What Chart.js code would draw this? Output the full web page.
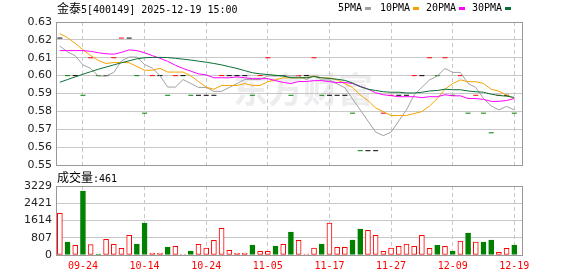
<!DOCTYPE html>
<html>
<head>
<meta charset="utf-8">
<script src="https://cdn.jsdelivr.net/npm/chart.js@4.4.1/dist/chart.umd.min.js"></script>
<style>
body { margin: 0; background: #fff; width: 578px; height: 276px; overflow: hidden; position: relative; }
canvas { position: absolute; left: 0; }
#price { top: 0; }
#vol { top: 170px; }
.t { position: absolute; font-family: "DejaVu Sans Mono", monospace; font-size: 10px; line-height: 12px; color: #000; white-space: nowrap; }
.cn { font-family: "Noto Sans CJK SC", sans-serif; font-size: 12px; }
.sq { position: absolute; width: 6px; height: 3px; }
</style>
</head>
<body>
<canvas id="price" width="578" height="176"></canvas>
<canvas id="vol" width="578" height="106"></canvas>

<div class="t" style="left:57px;top:2px"><span class="cn">金泰</span>5[400149] 2025-12-19 15:00</div>
<div class="t" style="left:338px;top:2px">5PMA</div>
<div class="sq" style="left:365px;top:7px;background:#a0a0a0"></div>
<div class="t" style="left:380px;top:2px">10PMA</div>
<div class="sq" style="left:413px;top:7px;background:#f5a300"></div>
<div class="t" style="left:426px;top:2px">20PMA</div>
<div class="sq" style="left:459px;top:7px;background:#ff00ff"></div>
<div class="t" style="left:472px;top:2px">30PMA</div>
<div class="sq" style="left:505px;top:7px;background:#0a6e36"></div>
<div class="t" style="left:57px;top:171px"><span class="cn">成交量</span>:461</div>

<script>
// 交易日
const dates = ['09-19','09-22','09-23','09-24','09-25','09-26','09-29','09-30','10-09','10-10',
  '10-13','10-14','10-15','10-16','10-17','10-20','10-21','10-22','10-23','10-24',
  '10-27','10-28','10-29','10-30','10-31','11-03','11-04','11-05','11-06','11-07',
  '11-10','11-11','11-12','11-13','11-14','11-17','11-18','11-19','11-20','11-21',
  '11-24','11-25','11-26','11-27','11-28','12-01','12-02','12-03','12-04','12-05',
  '12-08','12-09','12-10','12-11','12-12','12-15','12-16','12-17','12-18','12-19'];

// 收盘价 (开=高=低=收)
const closes = [0.621,0.600,0.600,0.589,0.610,0.600,0.600,0.610,0.621,0.621,
  0.600,0.579,0.600,0.600,0.589,0.600,0.600,0.589,0.589,0.589,
  0.589,0.600,0.600,0.600,0.600,0.589,0.600,0.610,0.600,0.600,
  0.589,0.600,0.600,0.610,0.589,0.589,0.589,0.589,0.579,0.558,
  0.558,0.558,0.579,0.589,0.589,0.589,0.600,0.600,0.610,0.600,
  0.610,0.589,0.600,0.579,0.589,0.579,0.568,0.589,0.589,0.579];

const ma5 = [0.6165,0.6133,0.6111,0.6060,0.6040,0.5998,0.5998,0.6018,0.6082,0.6104,
  0.6104,0.6062,0.6042,0.6000,0.5936,0.5936,0.5978,0.5956,0.5934,0.5934,
  0.5912,0.5912,0.5934,0.5956,0.5978,0.5978,0.5978,0.5998,0.5998,0.5998,
  0.5998,0.5998,0.5978,0.5998,0.5976,0.5976,0.5954,0.5932,0.5870,0.5808,
  0.5746,0.5684,0.5664,0.5684,0.5746,0.5808,0.5892,0.5934,0.5976,0.5998,
  0.6040,0.6018,0.6018,0.5956,0.5934,0.5872,0.5830,0.5808,0.5828,0.5808];

const ma10 = [0.6235,0.6212,0.6180,0.6145,0.6112,0.6085,0.6068,0.6073,0.6074,0.6072,
  0.6051,0.6030,0.6030,0.6041,0.6020,0.6020,0.6020,0.5999,0.5967,0.5935,
  0.5924,0.5945,0.5945,0.5945,0.5956,0.5945,0.5945,0.5966,0.5977,0.5988,
  0.5988,0.5988,0.5988,0.5998,0.5987,0.5987,0.5976,0.5955,0.5934,0.5892,
  0.5861,0.5819,0.5798,0.5777,0.5777,0.5777,0.5788,0.5799,0.5830,0.5872,
  0.5924,0.5955,0.5976,0.5966,0.5966,0.5956,0.5924,0.5913,0.5892,0.5871];

const ma20 = [0.6140,0.6140,0.6140,0.6140,0.6136,0.6128,0.6122,0.6120,0.6130,0.6144,
  0.6140,0.6128,0.6112,0.6097,0.6080,0.6058,0.6040,0.6025,0.6010,0.6004,
  0.5988,0.5988,0.5988,0.5993,0.5988,0.5983,0.5983,0.5983,0.5972,0.5962,
  0.5956,0.5967,0.5967,0.5972,0.5972,0.5966,0.5961,0.5961,0.5956,0.5940,
  0.5925,0.5904,0.5893,0.5888,0.5882,0.5882,0.5882,0.5877,0.5882,0.5882,
  0.5893,0.5887,0.5887,0.5872,0.5872,0.5867,0.5856,0.5856,0.5861,0.5872];

const ma30 = [0.5963,0.5978,0.5993,0.6008,0.6022,0.6036,0.6048,0.6060,0.6072,0.6083,
  0.6094,0.6100,0.6102,0.6102,0.6101,0.6097,0.6092,0.6087,0.6081,0.6075,
  0.6068,0.6060,0.6050,0.6040,0.6028,0.6016,0.6010,0.6006,0.6002,0.5998,
  0.5988,0.5988,0.5988,0.5995,0.5988,0.5984,0.5980,0.5973,0.5959,0.5938,
  0.5924,0.5917,0.5910,0.5907,0.5907,0.5903,0.5903,0.5907,0.5914,0.5917,
  0.5924,0.5921,0.5921,0.5914,0.5910,0.5907,0.5896,0.5889,0.5885,0.5878];

// 成交量
const volumes = [1950,608,452,2995,484,47,733,500,312,920,
  515,1498,94,94,374,406,31,187,500,328,
  686,1248,218,94,94,468,172,172,421,500,
  1076,686,47,328,515,1498,359,359,702,1217,
  1154,920,172,328,406,515,406,920,312,452,
  406,187,655,1030,608,608,702,125,312,461];

const tickIdx = [3, 11, 19, 27, 35, 43, 51, 59];
const priceTicks = [0.55, 0.56, 0.57, 0.58, 0.59, 0.60, 0.61, 0.62, 0.63];
const volTicks = [0, 807, 1614, 2421, 3229];

const RED = '#ff0000', GREEN = '#008000';
const xy = arr => arr.map((v, i) => ({ x: i, y: v }));

// 涨跌颜色
const candleColors = closes.map((c, i) => {
    if (i === 0 || c === closes[i - 1]) return '#000';
    return c > closes[i - 1] ? RED : GREEN;
});
const volUp = closes.map((c, i) => i === 0 || c >= closes[i - 1]);

const frame = {
    id: 'frame',
    afterDraw(chart) {
        const a = chart.chartArea, ctx = chart.ctx;
        ctx.save();
        ctx.strokeStyle = '#999';
        ctx.lineWidth = 1;
        ctx.strokeRect(a.left + 0.5, a.top + 0.5, a.right - a.left, a.bottom - a.top);
        ctx.restore();
    }
};

const watermark = {
    id: 'watermark',
    beforeDatasetsDraw(chart) {
        const ctx = chart.ctx;
        ctx.save();
        ctx.fillStyle = 'rgba(190,190,200,0.28)';
        ctx.font = 'bold 35px "Noto Sans CJK SC"';
        ctx.textBaseline = 'middle';
        ctx.fillText('东方财富', 233, 90);
        ctx.restore();
    }
};

const xScale = (showLabels, height) => ({
    type: 'linear',
    min: -0.5,
    max: 60,
    offset: false,
    afterBuildTicks: s => { s.ticks = tickIdx.map(v => ({ value: v })); },
    afterFit: s => { s.height = height; },
    ticks: {
        display: showLabels,
        autoSkip: false,
        maxRotation: 0,
        padding: 5,
        color: RED,
        font: { family: 'DejaVu Sans Mono', size: 10 },
        callback: v => dates[v]
    },
    grid: { color: '#c8c8c8', drawTicks: false, offset: false },
    border: { display: false, dash: [4, 3] }
});

const yTickStyle = { padding: 4, color: '#222', font: { family: 'DejaVu Sans', size: 11 } };

function maLine(label, arr, color, order) {
    return { label: label, data: xy(arr), borderColor: color, borderWidth: 1, pointRadius: 0, tension: 0, order: order };
}

new Chart(document.getElementById('price'), {
    type: 'line',
    data: {
        datasets: [
            {
                label: 'K', data: xy(closes), showLine: false,
                pointStyle: 'line', pointRadius: 2.5, pointHoverRadius: 2.5,
                pointBorderWidth: 1, pointBorderColor: candleColors, order: 5
            },
            maLine('MA5', ma5, '#a0a0a0', 4),
            maLine('MA10', ma10, '#f5a300', 3),
            maLine('MA20', ma20, '#ff00ff', 2),
            maLine('MA30', ma30, '#0a6e36', 1)
        ]
    },
    options: {
        responsive: false,
        animation: false,
        events: [],
        layout: { padding: { top: 22, right: 56, bottom: 11, left: 0 } },
        plugins: { legend: { display: false }, tooltip: { enabled: false } },
        scales: {
            x: xScale(false, 0),
            y: {
                min: 0.55, max: 0.63,
                afterBuildTicks: s => { s.ticks = priceTicks.map(v => ({ value: v })); },
                afterFit: s => { s.width = 56; },
                ticks: Object.assign({ callback: v => v.toFixed(2) }, yTickStyle),
                grid: { color: '#c8c8c8', drawTicks: false },
                border: { display: false }
            }
        }
    },
    plugins: [watermark, frame]
});

new Chart(document.getElementById('vol'), {
    type: 'bar',
    data: {
        datasets: [{
            label: '成交量',
            data: xy(volumes),
            backgroundColor: volUp.map(u => u ? '#fff' : GREEN),
            borderColor: volUp.map(u => u ? RED : GREEN),
            borderWidth: 1,
            borderSkipped: false,
            barThickness: 5
        }]
    },
    options: {
        responsive: false,
        animation: false,
        events: [],
        layout: { padding: { top: 16, right: 56, bottom: 0, left: 0 } },
        plugins: { legend: { display: false }, tooltip: { enabled: false } },
        scales: {
            x: xScale(true, 21),
            y: {
                min: 0, max: 3229,
                afterBuildTicks: s => { s.ticks = volTicks.map(v => ({ value: v })); },
                afterFit: s => { s.width = 56; },
                ticks: Object.assign({ callback: v => String(v) }, yTickStyle),
                grid: { color: '#c8c8c8', drawTicks: false },
                border: { display: false }
            }
        }
    },
    plugins: [frame]
});
</script>
</body>
</html>
